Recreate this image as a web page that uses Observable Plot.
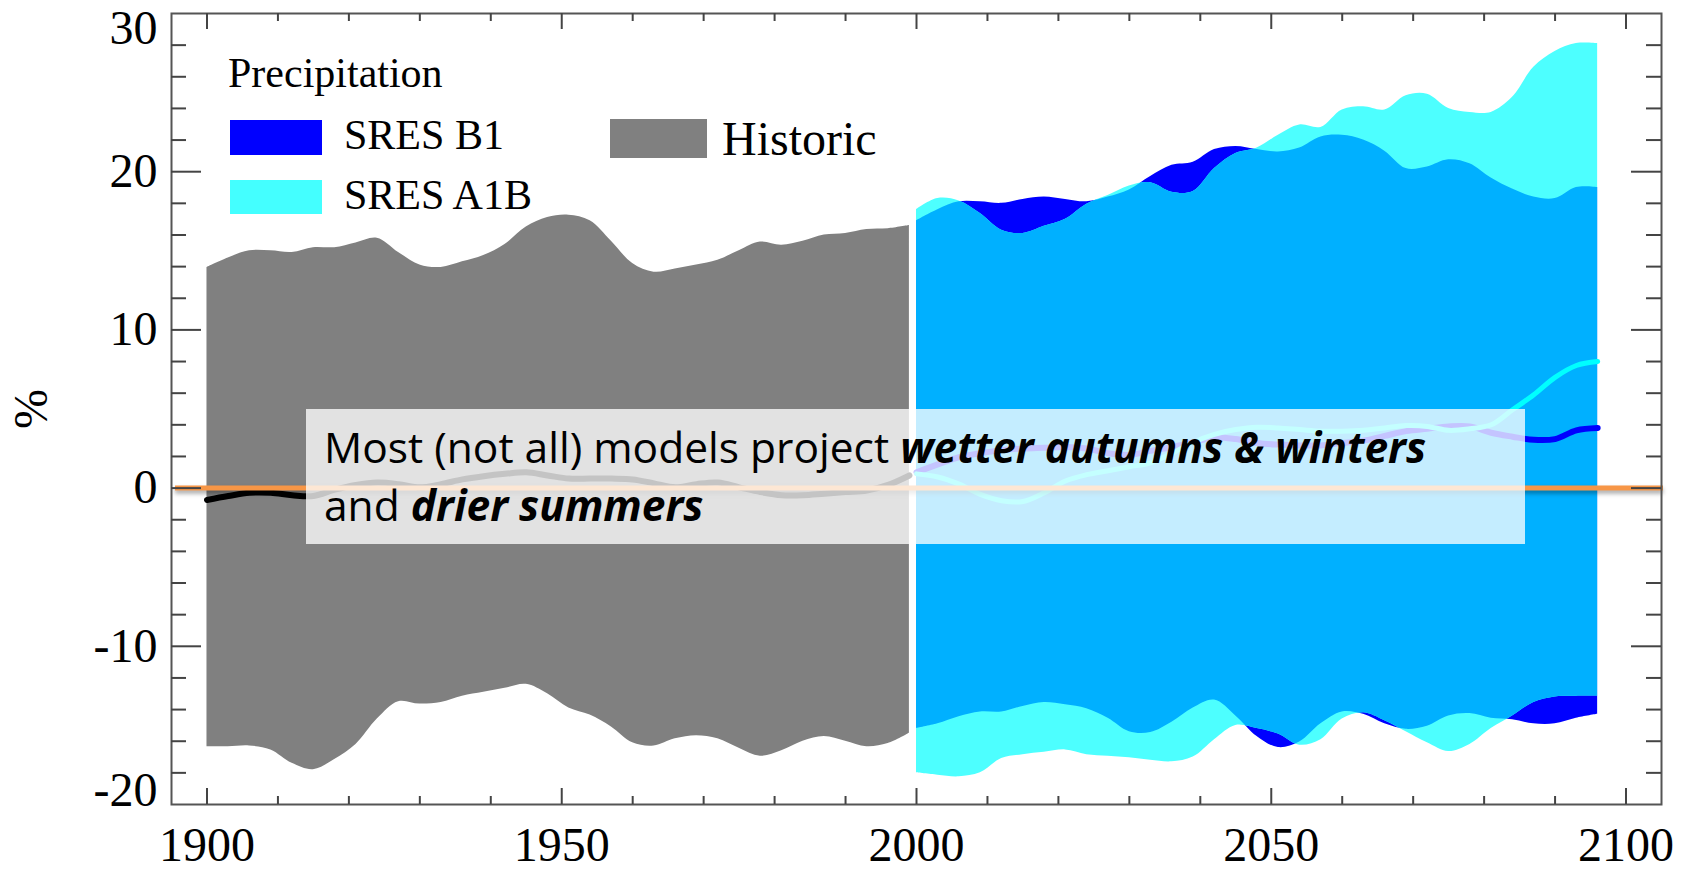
<!DOCTYPE html>
<html>
<head>
<meta charset="utf-8">
<script src="https://cdn.jsdelivr.net/npm/d3@7"></script>
<script src="https://cdn.jsdelivr.net/npm/@observablehq/plot@0.6"></script>
<style>
  html, body { margin: 0; padding: 0; background: #fff; }
  #chart { position: relative; width: 1688px; height: 871px; overflow: hidden; }
  #chart svg { position: absolute; left: 0; top: 0; }
  .lg { position: absolute; font-family: "Liberation Serif", "Times New Roman", serif; color: #000; line-height: 1; white-space: nowrap; }
  .sw { position: absolute; }
  .note { position: absolute; left: 306px; top: 409px; width: 1219px; height: 135px; background: rgba(255,255,255,0.77); }
  .note div { position: absolute; left: 18px; font-family: "Open Sans", Lato, sans-serif; font-size: 42.5px; line-height: 1; color: #000; white-space: nowrap; }
  .note b { font-weight: 700; font-style: italic; }
</style>
</head>
<body>
<div id="chart">
  <div class="lg" style="left:228px; top:52px; font-size:42px;">Precipitation</div>
  <div class="sw" style="left:230px; top:120px; width:92px; height:35px; background:#0000ff;"></div>
  <div class="lg" style="left:344px; top:114px; font-size:42px;">SRES B1</div>
  <div class="sw" style="left:230px; top:180px; width:92px; height:34px; background:#44ffff;"></div>
  <div class="lg" style="left:344px; top:174px; font-size:42px;">SRES A1B</div>
  <div class="sw" style="left:610px; top:119px; width:97px; height:39px; background:#808080;"></div>
  <div class="lg" style="left:722px; top:115px; font-size:48px;">Historic</div>
  <div class="note">
    <div style="top:17px;">Most (not all) models project <b>wetter autumns &amp; winters</b></div>
    <div style="top:75px;">and <b>drier summers</b></div>
  </div>
</div>
<script>
// Historic ensemble range and mean (% change), 1900–1999
const histYears = [1900,1903,1906,1909,1912,1915,1918,1921,1924,1927,1930,1933,1936,1939,1942,1945,1948,1951,1954,1957,1960,1963,1966,1969,1972,1975,1978,1981,1984,1987,1990,1993,1996,1999];
const histHigh  = [13.95,14.55,15.0,15.0,14.9,15.2,15.2,15.5,15.8,14.9,14.1,13.95,14.3,14.7,15.4,16.5,17.1,17.25,16.9,15.6,14.2,13.65,13.85,14.1,14.4,15.0,15.55,15.35,15.6,16.0,16.1,16.35,16.4,16.6];
const histLow   = [-16.35,-16.35,-16.3,-16.55,-17.4,-17.8,-17.15,-16.2,-14.6,-13.5,-13.65,-13.55,-13.15,-12.9,-12.65,-12.4,-13.0,-13.9,-14.35,-15.1,-16.1,-16.3,-15.85,-15.65,-15.85,-16.45,-16.95,-16.6,-16.0,-15.7,-16.0,-16.35,-16.15,-15.5];
const histMean  = [-0.75,-0.5,-0.3,-0.3,-0.45,-0.5,-0.1,0.2,0.35,0.25,0.05,0.25,0.55,0.75,0.9,1.0,0.8,0.6,0.6,0.6,0.55,0.3,0.05,0.25,0.35,0.05,-0.25,-0.45,-0.45,-0.35,-0.25,-0.15,0.2,0.8];

// Scenario projections, 2000–2096
const projYears = [2000,2003,2006,2009,2012,2015,2018,2021,2024,2027,2030,2033,2036,2039,2042,2045,2048,2051,2054,2057,2060,2063,2066,2069,2072,2075,2078,2081,2084,2087,2090,2093,2096];
const b1High  = [16.9,17.6,18.1,18.1,18.0,18.25,18.4,18.25,18.1,18.4,18.85,19.7,20.4,20.6,21.4,21.6,21.4,21.25,21.5,22.2,22.3,22.0,21.3,20.2,20.3,20.75,20.5,19.6,18.9,18.4,18.3,19.0,19.0];
const b1Low   = [-15.2,-14.9,-14.45,-14.15,-14.15,-13.8,-13.55,-13.7,-13.95,-14.55,-15.4,-15.45,-14.8,-13.9,-13.4,-14.4,-15.7,-16.4,-16.05,-14.9,-14.15,-14.3,-14.9,-15.25,-15.05,-14.4,-14.25,-14.55,-14.65,-14.9,-14.9,-14.55,-14.3];
const b1Mean  = [1.0,1.5,1.95,2.2,2.4,2.5,2.55,2.6,2.5,2.2,2.1,2.35,2.6,2.9,3.2,3.1,2.85,2.75,2.7,2.7,2.85,3.0,3.3,3.6,3.75,3.9,3.9,3.5,3.25,3.05,3.1,3.65,3.8];
const a1bHigh = [17.6,18.3,18.15,17.35,16.3,16.1,16.55,17.0,17.95,18.5,19.1,19.3,18.7,18.75,20.2,21.15,21.5,22.3,22.95,22.8,23.9,24.1,23.9,24.8,24.9,24.0,23.75,23.75,24.7,26.6,27.6,28.1,28.1];
const a1bLow  = [-18.0,-18.15,-18.25,-18.0,-17.1,-16.85,-16.7,-16.55,-16.85,-16.95,-17.05,-17.2,-17.3,-17.0,-15.9,-15.0,-15.2,-15.55,-16.25,-15.9,-14.6,-14.2,-14.7,-15.4,-16.1,-16.65,-16.2,-15.2,-14.4,-13.55,-13.2,-13.15,-13.15];
const a1bMean = [0.9,0.7,0.25,-0.4,-0.8,-0.85,-0.3,0.45,0.85,1.1,1.35,1.6,2.2,2.9,3.4,3.7,3.85,3.8,3.7,3.6,3.6,3.65,3.8,3.95,3.9,3.65,3.75,4.0,4.95,5.9,7.0,7.75,8.0];

// Axis ticks and labels
const xLabels = [1900, 1950, 2000, 2050, 2100];
const xMinor  = [1910,1920,1930,1940,1960,1970,1980,1990,2010,2020,2030,2040,2060,2070,2080,2090];
const yLabels = [-20, -10, 0, 10, 20, 30];
const yMajor  = [-10, 0, 10, 20];
const yMinor  = [-18,-16,-14,-12,-8,-6,-4,-2,2,4,6,8,12,14,16,18,22,24,26,28];
const yAxisTitle = "%";

const historic = histYears.map((year, i) => ({year, hi: histHigh[i], lo: histLow[i], mean: histMean[i]}));
const projection = projYears.map((year, i) => ({
  year,
  b1Hi: b1High[i], b1Lo: b1Low[i], b1Mean: b1Mean[i],
  a1bHi: a1bHigh[i], a1bLo: a1bLow[i], a1bMean: a1bMean[i]
}));

const W = 1688, H = 871;
const mL = 171, mR = 27, mT = 13, mB = 67;
const frameW = W - mL - mR, frameH = H - mT - mB;
const tickColor = "#444";
const curve = "catmull-rom";
const B1_FILL = "#0000ff", A1B_FILL = "#4dffff", BOTH_FILL = "#00b0ff", ZERO_STROKE = "#f79646";

const chart = Plot.plot({
  width: W,
  height: H,
  marginLeft: mL,
  marginRight: mR,
  marginTop: mT,
  marginBottom: mB,
  style: {fontFamily: '"Liberation Serif", "Times New Roman", serif', fontSize: "48px", color: "#000", background: "transparent", overflow: "visible"},
  x: {domain: [1895, 2105]},
  y: {domain: [-20, 30]},
  marks: [
    // ensemble ranges
    Plot.areaY(historic, {x: "year", y1: "lo", y2: "hi", fill: "#808080", curve}),
    Plot.areaY(projection, {x: "year", y1: "b1Lo", y2: "b1Hi", fill: B1_FILL, curve}),
    Plot.areaY(projection, {x: "year", y1: "a1bLo", y2: "a1bHi", fill: A1B_FILL, curve}),
    // where both scenarios agree (clipped to the B1 range below)
    Plot.areaY(projection, {x: "year", y1: "a1bLo", y2: "a1bHi", fill: BOTH_FILL, curve}),
    // ensemble means
    Plot.line(historic, {x: "year", y: "mean", stroke: "#000", strokeWidth: 6, curve}),
    Plot.line(projection, {x: "year", y: "b1Mean", stroke: "#0000ff", strokeWidth: 6, curve}),
    Plot.line(projection, {x: "year", y: "a1bMean", stroke: "#00ffff", strokeWidth: 5, curve}),
    // zero reference
    Plot.ruleY([0], {stroke: ZERO_STROKE, strokeWidth: 5, insetLeft: 4, insetRight: -2}),
    // frame and inward ticks
    Plot.frame({stroke: "#555", strokeWidth: 2}),
    Plot.tickX(xMinor, {x: d => d, insetTop: frameH - 8, stroke: tickColor, strokeWidth: 2}),
    Plot.tickX(xLabels, {x: d => d, insetTop: frameH - 16, stroke: tickColor, strokeWidth: 2}),
    Plot.tickX(xMinor, {x: d => d, insetBottom: frameH - 8, stroke: tickColor, strokeWidth: 2}),
    Plot.tickX(xLabels, {x: d => d, insetBottom: frameH - 16, stroke: tickColor, strokeWidth: 2}),
    Plot.tickY(yMinor, {y: d => d, insetRight: frameW - 15, stroke: tickColor, strokeWidth: 2}),
    Plot.tickY(yMajor, {y: d => d, insetRight: frameW - 30, stroke: tickColor, strokeWidth: 2}),
    Plot.tickY(yMinor, {y: d => d, insetLeft: frameW - 15, stroke: tickColor, strokeWidth: 2}),
    Plot.tickY(yMajor, {y: d => d, insetLeft: frameW - 30, stroke: tickColor, strokeWidth: 2}),
    // tick labels
    Plot.axisX({ticks: xLabels, tickSize: 0, tickPadding: 22, tickFormat: d => String(d), label: null}),
    Plot.axisY({ticks: yLabels.slice(1, -1), tickSize: 0, tickPadding: 14, tickFormat: d => String(d), label: null}),
    Plot.axisY({ticks: yLabels.slice(-1), tickSize: 0, tickPadding: 14, tickFormat: d => String(d), label: null, dy: 15}),
    Plot.axisY({ticks: yLabels.slice(0, 1), tickSize: 0, tickPadding: 14, tickFormat: d => String(d), label: null, dy: -14}),
    Plot.text([yAxisTitle], {frameAnchor: "left", textAnchor: "middle", lineAnchor: "middle", dx: -140, rotate: -90, text: d => d, fontSize: 48})
  ]
});

// Clip the agreement band to the B1 range so it shows the intersection of both scenarios
const ns = "http://www.w3.org/2000/svg";
const b1Path = chart.querySelector(`g[aria-label="area"][fill="${B1_FILL}"] path`);
const overlap = chart.querySelector(`g[aria-label="area"][fill="${BOTH_FILL}"]`);
if (b1Path && overlap) {
  const defs = document.createElementNS(ns, "defs");
  const clip = document.createElementNS(ns, "clipPath");
  clip.setAttribute("id", "b1-clip");
  const p = document.createElementNS(ns, "path");
  p.setAttribute("d", b1Path.getAttribute("d"));
  clip.appendChild(p);
  defs.appendChild(clip);
  chart.insertBefore(defs, chart.firstChild);
  overlap.setAttribute("clip-path", "url(#b1-clip)");
}
const zero = chart.querySelector(`g[aria-label="rule"][stroke="${ZERO_STROKE}"]`);
if (zero) zero.style.filter = "drop-shadow(0px 3px 2px rgba(0,0,0,0.35))";

const host = document.getElementById("chart");
host.insertBefore(chart, host.firstChild);
</script>
</body>
</html>
